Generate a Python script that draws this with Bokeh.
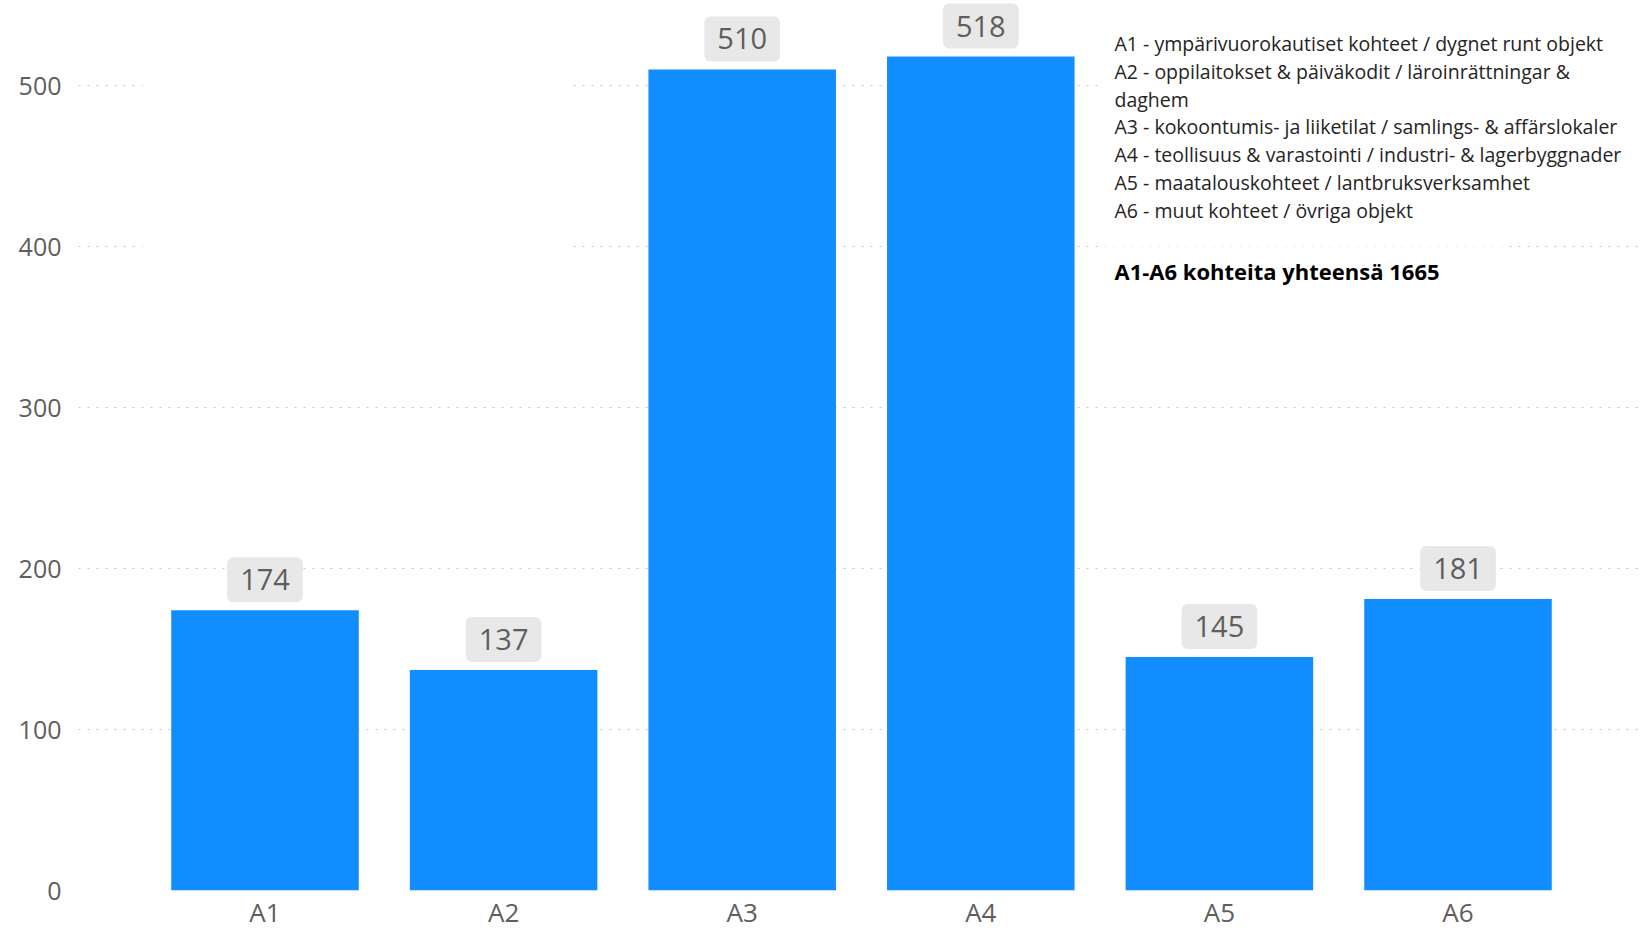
from bokeh.plotting import figure
from bokeh.models import Range1d, FixedTicker, Label, BoxAnnotation
from bokeh.core.properties import value
from bokeh.embed import file_html
from bokeh.resources import INLINE

# ---- data ----
categories = ["A1", "A2", "A3", "A4", "A5", "A6"]
counts = [174, 137, 510, 518, 145, 181]
y_ticks = [0, 100, 200, 300, 400, 500]
legend_lines = [
    "A1 - ympärivuorokautiset kohteet / dygnet runt objekt",
    "A2 - oppilaitokset & päiväkodit / läroinrättningar &",
    "daghem",
    "A3 - kokoontumis- ja liiketilat / samlings- & affärslokaler",
    "A4 - teollisuus & varastointi / industri- & lagerbyggnader",
    "A5 - maatalouskohteet / lantbruksverksamhet",
    "A6 - muut kohteet / övriga objekt",
]
total_text = "A1-A6 kohteita yhteensä 1665"

FONT = "Open Sans"
BAR_COLOR = "#118DFF"
TICK_COLOR = "#605E5C"

xs = list(range(len(categories)))
LEFT = 78            # frame left, px
FRAME_W = 1566
FRAME_H = 890        # frame bottom (y = 0) at px 890
PX_PER_CAT = 238.6
PX_PER_UNIT = 1.61
X0 = -(264.5 - LEFT) / PX_PER_CAT
X1 = X0 + FRAME_W / PX_PER_CAT
Y0, Y1 = 0, FRAME_H / PX_PER_UNIT

p = figure(
    frame_width=FRAME_W,
    frame_height=FRAME_H,
    x_range=Range1d(X0, X1),
    y_range=Range1d(Y0, Y1),
    output_backend="svg",
    toolbar_location=None,
    min_border_left=LEFT,
    min_border_right=0,
    min_border_top=0,
    min_border_bottom=0,
)
p.outline_line_color = None
p.background_fill_color = "white"
p.border_fill_color = "white"


# helpers converting picture-pixel positions into data coordinates
def sx2d(sx):
    return X0 + (sx - LEFT) / PX_PER_CAT


def sy2d(sy):
    return (FRAME_H - sy) / PX_PER_UNIT


# bars
p.vbar(x=xs, top=counts, width=0.786, fill_color=BAR_COLOR, line_color=None)

# data labels
p.text(
    x=xs, y=counts, text=[str(v) for v in counts],
    text_align="center", text_baseline="bottom",
    y_offset=-8,
    text_font=value(FONT), text_font_size="29px", text_color=TICK_COLOR,
    background_fill_color="#E8E8E8", border_radius=6, padding=(13, 12),
)

# grid / axes
p.xgrid.grid_line_color = None
p.ygrid.grid_line_color = "#C8C6C4"
p.ygrid.grid_line_dash = "2 7"
p.ygrid.grid_line_width = 1.2
p.ygrid.ticker = FixedTicker(ticks=y_ticks)

p.yaxis.ticker = FixedTicker(ticks=y_ticks)
p.xaxis.ticker = FixedTicker(ticks=xs)
p.xaxis.major_label_overrides = {i: c for i, c in zip(xs, categories)}
for ax in (p.xaxis[0], p.yaxis[0]):
    ax.axis_line_color = None
    ax.major_tick_line_color = None
    ax.minor_tick_line_color = None
    ax.major_tick_out = 0
    ax.major_tick_in = 0
    ax.major_label_text_font = FONT
    ax.major_label_text_color = TICK_COLOR
p.yaxis.major_label_text_font_size = "25px"
p.xaxis.major_label_text_font_size = "26px"
p.yaxis.major_label_standoff = 17
p.xaxis.major_label_standoff = 3

# white boxes hiding gridlines (empty visual area / legend text boxes)
p.add_layout(BoxAnnotation(left=sx2d(142), right=sx2d(566), top=sy2d(55), bottom=sy2d(300),
                           fill_color="white", fill_alpha=1, line_alpha=0))
p.add_layout(BoxAnnotation(left=sx2d(1100), right=X1, top=sy2d(20), bottom=sy2d(226),
                           fill_color="white", fill_alpha=1, line_alpha=0))
p.add_layout(BoxAnnotation(left=sx2d(1103), right=sx2d(1507), top=sy2d(226), bottom=sy2d(300),
                           fill_color="white", fill_alpha=0.6, line_alpha=0))

# legend text
for i, line in enumerate(legend_lines):
    p.add_layout(Label(x=sx2d(1114), y=sy2d(43 + i * 27.75), text=line,
                       text_font=FONT, text_font_size="19.5px", text_color="#252423",
                       text_baseline="middle", text_align="left"))
p.add_layout(Label(x=sx2d(1114), y=sy2d(270), text=total_text,
                   text_font=FONT, text_font_size="22px", text_font_style="bold",
                   text_color="#000000", text_baseline="middle", text_align="left"))

open("out.html", "w").write(file_html(p, INLINE))
